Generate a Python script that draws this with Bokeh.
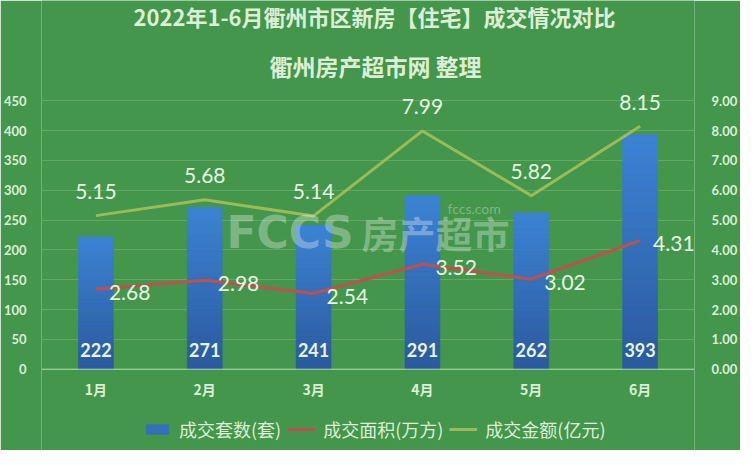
from bokeh.plotting import figure
from bokeh.models import (FactorRange, Range1d, LinearAxis, ColumnDataSource, Legend,
                          LegendItem, Label, LabelSet, NumeralTickFormatter, FixedTicker, Span)
from bokeh.core.properties import value
from bokeh.embed import file_html
from bokeh.resources import INLINE

# ---- data ----
months = ["1月", "2月", "3月", "4月", "5月", "6月"]
units = [222, 271, 241, 291, 262, 393]          # 成交套数(套)
area = [2.68, 2.98, 2.54, 3.52, 3.02, 4.31]     # 成交面积(万方)
amount = [5.15, 5.68, 5.14, 7.99, 5.82, 8.15]   # 成交金额(亿元)
left_ticks = [0, 50, 100, 150, 200, 250, 300, 350, 400, 450]
right_ticks = [0, 1, 2, 3, 4, 5, 6, 7, 8, 9]

title_text = "2022年1-6月衢州市区新房【住宅】成交情况对比"
subtitle_text = "衢州房产超市网 整理"
series_names = ["成交套数(套)", "成交面积(万方)", "成交金额(亿元)"]

BG = "#43964B"
TXT = "#DCEFD6"
LBL = "#E6F4E2"
BLUE_TOP = (60, 130, 212)
BLUE_BOT = (43, 90, 159)
RED = "#C0504D"
OLIVE = "#9BBB59"
CJK = "Noto Sans CJK SC"
NUM = "Lato"

# frame covers the whole canvas so that titles / legend are not clipped;
# value axis 0..450 occupies the same pixels as in the reference
Y_LO, Y_HI = -136.3, 618.2
R_LO, R_HI = Y_LO / 50.0, Y_HI / 50.0

p = figure(x_range=FactorRange(factors=months, range_padding=0),
           y_range=Range1d(Y_LO, Y_HI),
           width=740, height=450, output_backend="svg", toolbar_location=None,
           title=None, x_axis_location=None,
           min_border_left=36, min_border_right=42, min_border_top=0, min_border_bottom=0,
           background_fill_color=BG, border_fill_color=BG, outline_line_color=None)
p.extra_y_ranges = {"r": Range1d(R_LO, R_HI)}

# ---- axes ----
p.yaxis.ticker = FixedTicker(ticks=left_ticks)
raxis = LinearAxis(y_range_name="r", ticker=FixedTicker(ticks=right_ticks),
                   formatter=NumeralTickFormatter(format="0.00"))
p.add_layout(raxis, "right")
for ax in (p.yaxis[0], raxis):
    ax.axis_line_color = None
    ax.major_tick_line_color = None
    ax.minor_tick_line_color = None
    ax.major_label_text_color = TXT
    ax.major_label_text_font = NUM
    ax.major_label_text_font_style = "bold"
    ax.major_label_text_font_size = "13px"
p.yaxis[0].major_label_standoff = 9
raxis.major_label_standoff = 11

p.xgrid.visible = False
p.ygrid.grid_line_color = "#5FA866"
p.ygrid.grid_line_width = 1
p.add_layout(Span(location=0, dimension="width", line_color="#B2D9AA", line_width=1))

# ---- bars (vertical gradient, sliced) ----
N = 30
bx, bb, bt, bc = [], [], [], []
for m, v in zip(months, units):
    for k in range(N):
        f = k / (N - 1)
        c = tuple(int(round(BLUE_BOT[i] + (BLUE_TOP[i] - BLUE_BOT[i]) * f)) for i in range(3))
        bx.append(m)
        bb.append(v * k / N)
        bt.append(v * (k + 1) / N)
        bc.append("#%02x%02x%02x" % c)
bsrc = ColumnDataSource(dict(x=bx, bottom=bb, top=bt, color=bc))
bars = p.vbar(x="x", bottom="bottom", top="top", width=0.32, source=bsrc,
              fill_color="color", line_color="color", line_width=0.6)

# ---- lines ----
red = p.line(x=months, y=area, y_range_name="r", line_color=RED, line_width=3)
olive = p.line(x=months, y=amount, y_range_name="r", line_color=OLIVE, line_width=3)

# ---- data labels ----
src = ColumnDataSource(dict(
    m=months,
    base=[0 for _ in units],
    units_txt=[str(u) for u in units],
    area=area,
    area_txt=["%.2f" % a for a in area],
    amount=amount,
    amount_txt=["%.2f" % a for a in amount],
))
# category labels (x axis)
p.add_layout(LabelSet(x="m", y="base", text="m", source=src,
                      text_align="center", text_baseline="middle",
                      y_offset=-20, text_color=TXT, text_font=value(CJK),
                      text_font_style="bold", text_font_size="14px"))
p.add_layout(LabelSet(x="m", y="base", text="units_txt", source=src,
                      text_align="center", text_baseline="middle",
                      y_offset=19, text_color=LBL, text_font=value(NUM),
                      text_font_style="bold", text_font_size="18px"))
p.add_layout(LabelSet(x="m", y="area", text="area_txt", source=src, y_range_name="r",
                      text_align="left", text_baseline="middle",
                      x_offset=13, y_offset=-3, text_color=LBL, text_font=value(NUM),
                      text_font_size="21px"))
p.add_layout(LabelSet(x="m", y="amount", text="amount_txt", source=src, y_range_name="r",
                      text_align="center", text_baseline="middle",
                      y_offset=24, text_color=LBL, text_font=value(NUM),
                      text_font_size="21px"))

# ---- watermark ----
p.add_layout(Label(x=185, y=218, x_units="screen", y_units="screen", text="FCCS",
                   text_baseline="middle", text_font="DejaVu Sans", text_font_style="bold",
                   text_font_size="44px", text_color="#FFFFFF", text_alpha=0.33))
p.add_layout(Label(x=320, y=218, x_units="screen", y_units="screen", text="房产超市",
                   text_baseline="middle", text_font=CJK, text_font_style="bold",
                   text_font_size="37px", text_color="#FFFFFF", text_alpha=0.33))
p.add_layout(Label(x=406, y=242, x_units="screen", y_units="screen", text="fccs.com",
                   text_baseline="middle", text_font=NUM,
                   text_font_size="14px", text_color="#FFFFFF", text_alpha=0.33))

# ---- titles ----
p.add_layout(Label(x=333, y=434.5, x_units="screen", y_units="screen", text=title_text,
                   text_align="center", text_baseline="middle", text_font=CJK,
                   text_font_style="bold", text_font_size="22px", text_color=TXT))
p.add_layout(Label(x=334, y=385, x_units="screen", y_units="screen", text=subtitle_text,
                   text_align="center", text_baseline="middle", text_font=CJK,
                   text_font_style="bold", text_font_size="23px", text_color=TXT))

# ---- legend ----
legend = Legend(items=[LegendItem(label=series_names[0], renderers=[bars], index=N // 2),
                       LegendItem(label=series_names[1], renderers=[red]),
                       LegendItem(label=series_names[2], renderers=[olive])],
                orientation="horizontal", location=(102, 8),
                background_fill_alpha=0, border_line_color=None,
                label_text_color=TXT, label_text_font=CJK, label_text_font_size="18px",
                glyph_width=28, glyph_height=12, spacing=6, padding=0, margin=0,
                label_standoff=8)
p.add_layout(legend)

open("out.html", "w").write(file_html(p, INLINE))
